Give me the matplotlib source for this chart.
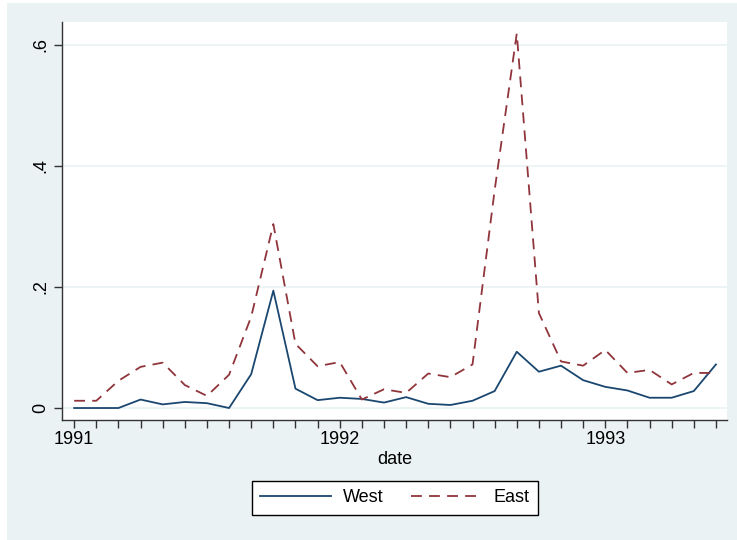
import matplotlib.pyplot as plt
from matplotlib.patches import Rectangle

plt.rcParams['font.family'] = ['Liberation Sans', 'DejaVu Sans']

# monthly, 1991m1 .. 1993m6
months = list(range(30))
west = [0.0, 0.0, 0.0, 0.014, 0.006, 0.010, 0.008, 0.0, 0.056, 0.194,
        0.032, 0.013, 0.017, 0.015, 0.009, 0.018, 0.007, 0.005, 0.012, 0.028,
        0.093, 0.060, 0.070, 0.046, 0.035, 0.029, 0.017, 0.017, 0.028, 0.072]
east = [0.012, 0.012, 0.045, 0.068, 0.075, 0.038, 0.020, 0.055, 0.151, 0.304,
        0.106, 0.069, 0.076, 0.014, 0.031, 0.025, 0.057, 0.051, 0.072, 0.36,
        0.619, 0.157, 0.077, 0.070, 0.096, 0.058, 0.063, 0.039, 0.058, 0.058]
year_ticks = [0, 12, 24]
year_labels = ['1991', '1992', '1993']
y_ticks = [0, 0.2, 0.4, 0.6]
y_labels = ['0', '.2', '.4', '.6']

W, H = 737, 540
fig = plt.figure(figsize=(W / 100, H / 100), dpi=100)
fig.patch.set_facecolor('white')
fig.patches.append(Rectangle((7 / W, 0), 730 / W, 537 / H, transform=fig.transFigure,
                             facecolor='#eaf2f3', edgecolor='none', zorder=-10))

ax = fig.add_axes([62 / W, (H - 420) / H, (727 - 62) / W, (420 - 22) / H])
ax.set_facecolor('white')

ax.plot(months, west, color='#1a476f', lw=1.3, label='West')
ax.plot(months, east, color='#90353b', lw=1.3, dashes=(6, 4), label='East')

ax.set_xlim(-0.55, 29.5)
ax.set_ylim(-0.0198, 0.638)

ax.set_xticks(months)
ax.set_xticklabels([year_labels[year_ticks.index(m)] if m in year_ticks else '' for m in months])
ax.set_yticks(y_ticks)
ax.set_yticklabels(y_labels, rotation=90, va='center')
ax.tick_params(axis='both', length=6, width=1, color='#333333', labelsize=13)
ax.tick_params(axis='x', pad=2)
ax.tick_params(axis='y', pad=3)

ax.grid(axis='y', color='#eaf2f3', lw=1.2)
ax.set_axisbelow(True)
for s in ['top', 'right']:
    ax.spines[s].set_visible(False)
for s in ['left', 'bottom']:
    ax.spines[s].set_color('#333333')
    ax.spines[s].set_linewidth(1)

ax.set_xlabel('date', fontsize=13, labelpad=2)

leg = fig.legend(loc='center', bbox_to_anchor=(395 / W, 1 - 498 / H), ncol=2,
                 fontsize=13, frameon=True, fancybox=False, edgecolor='black',
                 framealpha=1, facecolor='white',
                 handlelength=3.9, columnspacing=1.55, borderpad=0.45, handletextpad=0.67)
leg.get_frame().set_linewidth(1)

fig.savefig('out.png', dpi=100)
